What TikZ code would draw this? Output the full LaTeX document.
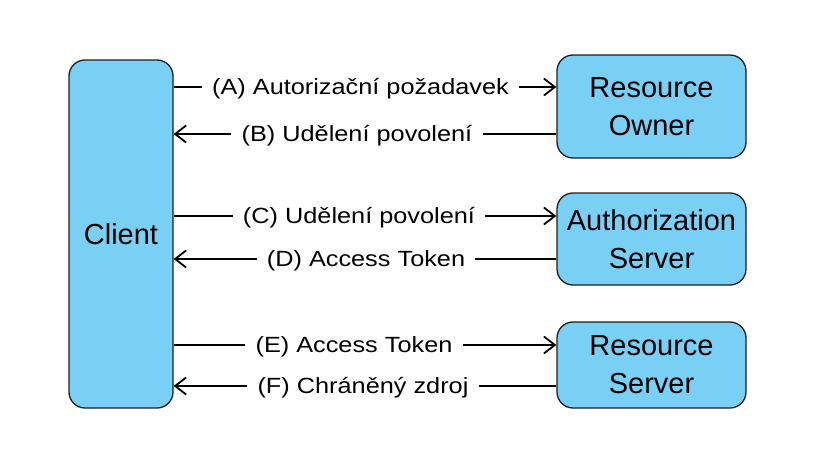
\documentclass[tikz,border=0pt]{standalone}
\usepackage{fontspec}
\setmainfont{Liberation Sans}
\newfontfamily\lblfont[FakeStretch=1.15]{Liberation Sans}
\usetikzlibrary{arrows.meta}
\definecolor{boxblue}{RGB}{122,207,245}
\definecolor{boxline}{RGB}{30,30,30}
\tikzset{
  party/.style={draw=boxline, line width=1.3pt, fill=boxblue, rounded corners=16pt,
    align=center, font=\fontsize{29}{38}\selectfont, inner sep=0pt},
  msg/.style={font=\lblfont\fontsize{22}{26}\selectfont, text height=15pt, text depth=0pt,
    inner xsep=10pt, inner ysep=0pt},
  flow/.style={line width=1.8pt, -{Straight Barb[length=11pt,width=17pt,line width=1.8pt]}},
  plain/.style={line width=1.8pt}
}
\begin{document}
\begin{tikzpicture}[x=1pt,y=-1pt]
\useasboundingbox (0,0) rectangle (828,471);
\node[party, minimum width=104pt, minimum height=348pt] (client) at (121,234) {Client};
\node[party, minimum width=189pt, minimum height=103pt] (ro) at (651.5,106.5) {Resource\\Owner};
\node[party, minimum width=189pt, minimum height=92pt] (as) at (651.5,239) {Authorization\\Server};
\node[party, minimum width=189pt, minimum height=86pt] (rs) at (651.5,365) {Resource\\Server};

\node[msg] (a) at (360.5,87) {(A) Autorizační požadavek};
\node[msg] (b) at (357,134) {(B) Udělení povolení};
\node[msg] (c) at (359,216) {(C) Udělení povolení};
\node[msg] (d) at (366,259) {(D) Access Token};
\node[msg] (e) at (354,345) {(E) Access Token};
\node[msg] (f) at (363,386) {(F) Chráněný zdroj};

\draw[plain] (a.west -| client.east) -- (a.west);
\draw[flow] (a.east) -- (a.east -| ro.west);
\draw[plain] (b.east -| ro.west) -- (b.east);
\draw[flow] (b.west) -- (b.west -| client.east);
\draw[plain] (c.west -| client.east) -- (c.west);
\draw[flow] (c.east) -- (c.east -| as.west);
\draw[plain] (d.east -| as.west) -- (d.east);
\draw[flow] (d.west) -- (d.west -| client.east);
\draw[plain] (e.west -| client.east) -- (e.west);
\draw[flow] (e.east) -- (e.east -| rs.west);
\draw[plain] (f.east -| rs.west) -- (f.east);
\draw[flow] (f.west) -- (f.west -| client.east);
\end{tikzpicture}
\end{document}
